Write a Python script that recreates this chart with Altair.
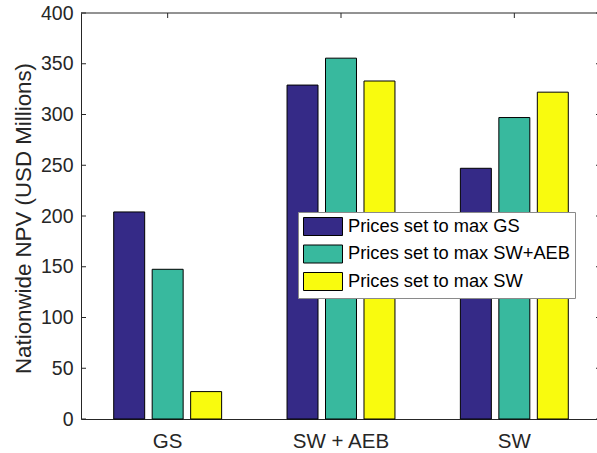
import altair as alt
import pandas as pd

# Scenarios on the x axis and the three pricing strategies compared in each
categories = ["GS", "SW + AEB", "SW"]
series = ["Prices set to max GS", "Prices set to max SW+AEB", "Prices set to max SW"]

# Nationwide NPV (USD millions) per scenario, one list per pricing strategy
npv_max_gs = [204, 329, 247]
npv_max_sw_aeb = [147.5, 355.5, 297]
npv_max_sw = [27, 333, 322]

y_ticks = [0, 50, 100, 150, 200, 250, 300, 350, 400]
colors = ["#352a87", "#38b99e", "#f9fb0e"]

rows = []
for name, vals in zip(series, [npv_max_gs, npv_max_sw_aeb, npv_max_sw]):
    for cat, v in zip(categories, vals):
        rows.append({"scenario": cat, "pricing": name, "npv": v})
df = pd.DataFrame(rows)
tick_df = pd.DataFrame({"npv": y_ticks})
cat_df = pd.DataFrame({"scenario": categories})
one_df = pd.DataFrame({"v": [0]})

FONT = "Liberation Sans"
AXIS_COLOR = "#262626"
PLOT_W = 516
BAND_RANGE = 520
PLOT_H = 406

x_scale = alt.Scale(domain=categories, range=[0, BAND_RANGE], paddingInner=0, paddingOuter=0)
y_scale = alt.Scale(domain=[0, 400], nice=False, zero=True)

x_axis = alt.Axis(
    title=None, labelAngle=0, ticks=False, tickSize=0, labelPadding=12,
    labelFontSize=20.5, labelFont=FONT, labelColor=AXIS_COLOR,
    domainColor=AXIS_COLOR, domainWidth=1, grid=False,
)
y_axis = alt.Axis(
    values=y_ticks, title="Nationwide NPV (USD Millions)", grid=False,
    ticks=False, tickSize=0, labelPadding=8, labelFontSize=19.5,
    labelFont=FONT, labelColor=AXIS_COLOR, domainColor=AXIS_COLOR,
    domainWidth=1, titleFont=FONT, titleFontSize=22.3,
    titleFontWeight="normal", titleColor=AXIS_COLOR, titleX=-58,
    titleY=PLOT_H / 2 + 2, titleAngle=270, titleBaseline="middle",
    titleAlign="center",
)

# Legend swatches: a wide rectangle whose nominal symbol size stays at the
# swatch height, so each legend row is only as tall as the swatch
SWATCH_H = 18
swatch_path = "M-1,-1H3.333V1H-1Z"

bars = alt.Chart(df).mark_bar(stroke="black", strokeWidth=1, opacity=1).encode(
    x=alt.X("scenario:N", scale=x_scale, sort=categories, axis=x_axis),
    xOffset=alt.XOffset(
        "pricing:N", sort=series,
        scale=alt.Scale(domain=series, paddingInner=0.195, paddingOuter=0.85),
    ),
    y=alt.Y("npv:Q", scale=y_scale, axis=y_axis),
    color=alt.Color(
        "pricing:N",
        sort=series,
        scale=alt.Scale(domain=series, range=colors),
        legend=alt.Legend(
            title=None, orient="none", legendX=217, legendY=199,
            fillColor="white", strokeColor="#8a8a8a", padding=5,
            cornerRadius=0, symbolType=swatch_path,
            symbolSize=SWATCH_H * SWATCH_H, symbolStrokeColor="black",
            symbolStrokeWidth=1, symbolOpacity=1, labelFont=FONT,
            labelFontSize=18.3, labelColor="black", labelOffset=26,
            rowPadding=4.5, labelLimit=400,
        ),
    ),
)

# Inward-pointing tick marks and the top edge of the axes box
left_ticks = alt.Chart(tick_df).mark_rule(color=AXIS_COLOR, strokeWidth=1).encode(
    y=alt.Y("npv:Q", scale=y_scale, axis=y_axis), x=alt.value(0), x2=alt.value(5)
)
right_ticks = alt.Chart(tick_df).mark_rule(color=AXIS_COLOR, strokeWidth=1).encode(
    y=alt.Y("npv:Q", scale=y_scale, axis=y_axis),
    x=alt.value(BAND_RANGE - 5), x2=alt.value(BAND_RANGE),
)
top_ticks = alt.Chart(cat_df).mark_rule(color=AXIS_COLOR, strokeWidth=1).encode(
    x=alt.X("scenario:N", scale=x_scale, sort=categories, axis=x_axis),
    y=alt.value(0), y2=alt.value(5),
)
top_line = alt.Chart(one_df).mark_rule(color=AXIS_COLOR, strokeWidth=1).encode(
    x=alt.value(0), x2=alt.value(BAND_RANGE), y=alt.value(0)
)

chart = (
    alt.layer(bars, top_line, left_ticks, right_ticks, top_ticks)
    .properties(
        width=PLOT_W,
        height=PLOT_H,
        autosize=alt.AutoSizeParams(type="none"),
        padding={"left": 81, "top": 13, "right": 0, "bottom": 34},
        background="white",
    )
    .configure_view(stroke=None)
)

chart.save("out.html", embed_options={"renderer": "svg", "actions": False})
